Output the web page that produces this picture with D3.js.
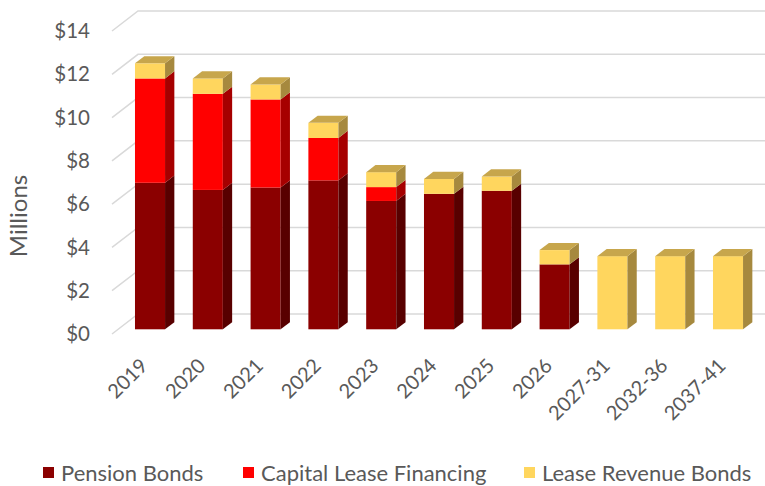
<!DOCTYPE html>
<html>
<head>
<meta charset="utf-8">
<script src="https://cdn.jsdelivr.net/npm/d3@7"></script>
<style>
  html, body { margin: 0; padding: 0; background: #fff; }
  svg { display: block; font-family: Lato, "Open Sans", sans-serif; }
</style>
</head>
<body>
<svg id="chart" width="765" height="486"></svg>
<script>
// ---- data ----
const categories = ["2019","2020","2021","2022","2023","2024","2025","2026","2027-31","2032-36","2037-41"];
const pensionBonds = [6.77, 6.44, 6.55, 6.88, 5.93, 6.26, 6.40, 3.00, 0, 0, 0];
const capitalLease = [4.82, 4.44, 4.07, 1.96, 0.64, 0, 0, 0, 0, 0, 0];
const leaseRevenue = [0.70, 0.71, 0.69, 0.70, 0.69, 0.69, 0.66, 0.66, 3.38, 3.38, 3.38];
const seriesNames = ["Pension Bonds", "Capital Lease Financing", "Lease Revenue Bonds"];
const yTicks = [0, 2, 4, 6, 8, 10, 12, 14];
const yTickLabels = ["$0", "$2", "$4", "$6", "$8", "$10", "$12", "$14"];
const axisTitle = "Millions";

// colours: front, side, top
const palette = [
  { front: "#8b0000", side: "#580000", top: "#6e0000" },
  { front: "#ff0000", side: "#a60000", top: "#c80000" },
  { front: "#ffd65e", side: "#a6893e", top: "#c7a64c" }
];

const svg = d3.select("#chart");
const textColor = "#595959";

// ---- 3D-ish projection ----
const depthDX = 26, depthDY = -20;           // full floor depth offset
const d0 = 0.235, d1 = 0.593;                // bar front/back depth
const y = d3.scaleLinear().domain([0, 14]).range([334, 31]);
const x = d3.scaleBand().domain(categories).range([115, 750.8]).paddingInner(0.48).paddingOuter(0.24);
const P = (px, v, d) => [px + depthDX * d, y(v) + depthDY * d];

// ---- gridlines (side wall + back wall) ----
const leftX = 112, rightX = 765;
const grid = svg.append("g");
yTicks.forEach(t => {
  const a = P(leftX, t, 0), b = P(leftX, t, 1);
  grid.append("path")
    .attr("d", `M${a[0]},${a[1]}L${b[0]},${b[1]}L${rightX},${b[1]}`)
    .attr("fill", "none").attr("stroke", "#d9d9d9").attr("stroke-width", 1.5);
});

// ---- y labels ----
svg.append("g").selectAll("text").data(yTicks).join("text")
  .attr("x", 90).attr("y", d => y(d)).attr("dy", "0.35em")
  .attr("text-anchor", "end").attr("font-size", 20.5).attr("fill", textColor)
  .text((d, i) => yTickLabels[i]);

svg.append("text")
  .attr("transform", "translate(19,216) rotate(-90)")
  .attr("text-anchor", "middle").attr("dy", "0.35em")
  .attr("font-size", 24).attr("fill", textColor).text(axisTitle);

// ---- bars ----
const stackData = categories.map((c, i) => ({ cat: c, vals: [pensionBonds[i], capitalLease[i], leaseRevenue[i]] }));
const bars = svg.append("g");
stackData.forEach(d => {
  const xl = x(d.cat), xr = xl + x.bandwidth();
  let base = 0;
  const total = d3.sum(d.vals);
  d.vals.forEach((v, si) => {
    if (v <= 0) return;
    const top = base + v;
    const col = palette[si];
    const fl = P(xl, top, d0), fr = P(xr, base, d0);
    // front
    bars.append("rect")
      .attr("x", fl[0]).attr("y", fl[1])
      .attr("width", fr[0] - fl[0]).attr("height", fr[1] - fl[1])
      .attr("fill", col.front);
    // side
    const s1 = P(xr, top, d0), s2 = P(xr, top, d1), s3 = P(xr, base, d1), s4 = P(xr, base, d0);
    bars.append("path")
      .attr("d", `M${s1}L${s2}L${s3}L${s4}Z`)
      .attr("fill", col.side);
    // top face only for the topmost segment
    if (Math.abs(top - total) < 1e-9) {
      const t1 = P(xl, top, d0), t2 = P(xl, top, d1), t3 = P(xr, top, d1), t4 = P(xr, top, d0);
      bars.append("path")
        .attr("d", `M${t1}L${t2}L${t3}L${t4}Z`)
        .attr("fill", col.top);
    }
    base = top;
  });
});

// ---- x labels ----
svg.append("g").selectAll("text").data(categories).join("text")
  .attr("transform", d => `translate(${x(d) + x.bandwidth() / 2},362) rotate(-45)`)
  .attr("text-anchor", "end").attr("dy", "0.35em")
  .attr("font-size", 20).attr("fill", textColor)
  .text(d => d);

// ---- legend ----
const legendX = [43, 243, 524];
const legend = svg.append("g");
seriesNames.forEach((name, i) => {
  legend.append("rect").attr("x", legendX[i]).attr("y", 467).attr("width", 11).attr("height", 11)
    .attr("fill", palette[i].front);
  legend.append("text").attr("x", legendX[i] + 18).attr("y", 473).attr("dy", "0.35em")
    .attr("font-size", 22).attr("fill", textColor).text(name);
});
</script>
</body>
</html>
